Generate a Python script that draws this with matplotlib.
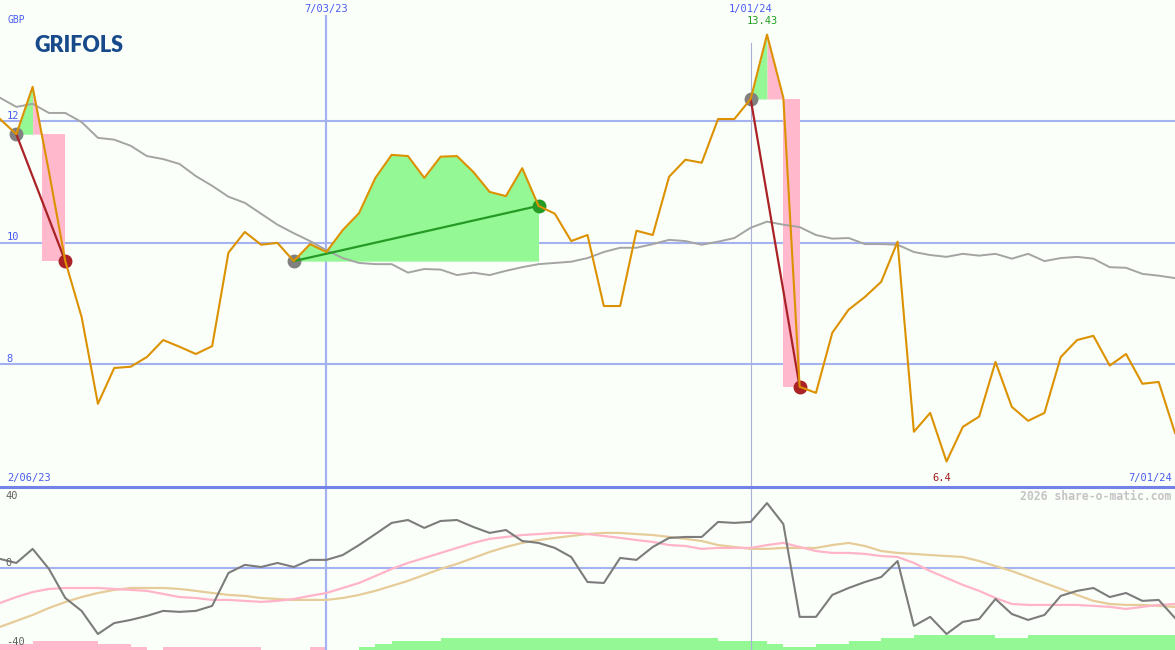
import numpy as np
import matplotlib
matplotlib.use('Agg')
import matplotlib.pyplot as plt

# weekly closing prices (GBP), one per week
price = [12.04, 11.79, 12.57, 11.17, 9.70, 8.78, 7.35, 7.94, 7.96, 8.12,
         8.40, 8.29, 8.17, 8.30, 9.84, 10.18, 9.97, 10.00, 9.70, 9.98,
         9.85, 10.21, 10.49, 11.07, 11.45, 11.43, 11.07, 11.42, 11.43, 11.17,
         10.84, 10.77, 11.23, 10.61, 10.48, 10.03, 10.13, 8.96, 8.96, 10.20,
         10.13, 11.09, 11.37, 11.32, 12.04, 12.04, 12.37, 13.43, 12.39, 7.63,
         7.53, 8.52, 8.90, 9.11, 9.36, 10.02, 6.89, 7.20, 6.40, 6.97,
         7.14, 8.04, 7.30, 7.07, 7.20, 8.12, 8.40, 8.47, 7.98, 8.17,
         7.68, 7.71, 6.87]

# moving average (grey line)
ma = [12.39, 12.24, 12.29, 12.14, 12.14, 11.99, 11.73, 11.70, 11.60, 11.43,
      11.38, 11.30, 11.10, 10.94, 10.76, 10.66, 10.48, 10.30, 10.16, 10.03,
      9.88, 9.75, 9.67, 9.65, 9.65, 9.51, 9.57, 9.56, 9.47, 9.51,
      9.47, 9.54, 9.60, 9.65, 9.67, 9.69, 9.75, 9.85, 9.92, 9.92,
      9.98, 10.05, 10.03, 9.97, 10.02, 10.08, 10.25, 10.35, 10.30, 10.26,
      10.13, 10.07, 10.08, 9.98, 9.98, 9.97, 9.85, 9.80, 9.77, 9.82,
      9.79, 9.82, 9.74, 9.82, 9.70, 9.75, 9.77, 9.74, 9.60, 9.59,
      9.49, 9.46, 9.42]

# lower panel indicators
osc = [4.7, 2.6, 9.9, -0.5, -15.6, -22.3, -34.3, -28.6, -27.0, -24.9,
       -22.3, -22.8, -22.3, -19.7, -2.6, 1.6, 0.5, 2.6, 0.5, 4.2,
       4.2, 6.7, 11.9, 17.6, 23.4, 24.9, 20.8, 24.4, 24.9, 21.3,
       18.2, 19.7, 14.0, 13.0, 10.4, 5.7, -7.3, -7.8, 5.2, 4.2,
       10.9, 15.6, 16.1, 16.1, 23.9, 23.4, 23.9, 33.7, 22.8, -25.4,
       -25.4, -14.0, -10.4, -7.3, -4.7, 3.6, -30.1, -25.4, -34.3, -28.0,
       -26.5, -16.1, -23.9, -27.0, -24.4, -14.5, -11.9, -10.4, -15.1, -13.0,
       -17.1, -16.6, -26.0]
sig_pink = [-18.2, -15.1, -12.5, -10.9, -10.4, -10.4, -10.4, -10.9, -11.4, -11.9,
            -13.5, -15.1, -15.6, -16.6, -16.6, -17.1, -17.6, -17.1, -16.1, -14.5,
            -13.0, -10.4, -7.8, -4.2, -0.5, 2.6, 5.2, 7.8, 10.4, 13.0,
            15.1, 16.1, 17.1, 17.6, 18.2, 18.2, 17.6, 16.6, 15.6, 14.5,
            13.5, 11.9, 11.4, 9.9, 10.4, 10.4, 10.4, 11.9, 13.0, 10.9,
            8.8, 7.8, 7.8, 7.3, 6.2, 5.7, 2.6, -1.6, -5.2, -8.8,
            -11.9, -15.6, -18.7, -19.2, -19.2, -19.2, -19.2, -19.7, -20.2, -21.3,
            -20.2, -19.2, -18.7]
sig_tan = [-30.6, -27.5, -24.4, -20.8, -17.7, -15.1, -13.0, -11.4, -10.4, -10.4,
           -10.4, -10.9, -11.9, -13.0, -14.0, -14.5, -15.6, -16.1, -16.6, -16.6,
           -16.6, -15.6, -14.0, -11.9, -9.3, -6.7, -3.6, -0.5, 2.1, 5.2,
           8.3, 10.9, 13.0, 14.5, 15.6, 16.6, 17.6, 18.2, 18.2, 17.6,
           17.1, 16.1, 15.1, 14.0, 11.9, 10.9, 9.9, 9.9, 10.4, 10.4,
           10.4, 11.9, 13.0, 11.4, 8.8, 7.8, 7.3, 6.7, 6.2, 5.7,
           3.6, 1.0, -1.6, -4.7, -7.8, -10.9, -14.0, -17.1, -18.7, -19.2,
           -19.2, -19.7, -20.2]
# histogram along the bottom (negative = pink, positive = green)
hist = [-2, -2, -3, -3, -3, -3, -2, -2, -1, 0,
        -1, -1, -1, -1, -1, -1, 0, 0, 0, -1,
        0, 0, 1, 2, 3, 3, 3, 4, 4, 4,
        4, 4, 4, 4, 4, 4, 4, 4, 4, 4,
        4, 4, 4, 4, 3, 3, 3, 2, 1, 1,
        2, 2, 3, 3, 4, 4, 5, 5, 5, 5,
        5, 4, 4, 5, 5, 5, 5, 5, 5, 5,
        5, 5, 0]

# trades: entry / exit week index
trade_entry = [1, 18, 46]
trade_exit = [4, 33, 49]

date_pos = [20, 46]
date_labels = ['7/03/23', '1/01/24']
first_date, last_date = '2/06/23', '7/01/24'
price_grid = [12, 10, 8]
osc_labels = ['40', '0', '-40']

bg = '#fbfff9'
grid_c = '#a4b2f2'
lab_c = '#4a5cf0'
mono = 'DejaVu Sans Mono'

x = np.arange(len(price))
price = np.array(price)

fig = plt.figure(figsize=(11.75, 6.5), dpi=100, facecolor=bg)
ax = fig.add_axes([0, 1 - 487 / 650, 1, 487 / 650], facecolor=bg)
ax2 = fig.add_axes([0, 0, 1, 161 / 650], facecolor=bg)
axh = ax2.twinx()

for a in (ax, ax2, axh):
    a.set_xlim(0, len(price) - 1)
    a.set_xticks([])
    a.set_yticks([])
    for s in a.spines.values():
        s.set_visible(False)

ax.set_ylim(5.98, 14.0)
ax2.set_ylim(-42.6, 41.0)
axh.set_ylim(0, 54)

# grid
for g in price_grid:
    ax.axhline(g, color=grid_c, lw=1.5, zorder=1)
    ax.text(0.4, g + 0.04, str(g), color=lab_c, fontsize=7.5, family=mono,
            va='baseline', ha='left')
ax.axvline(date_pos[0], ymax=1 - 16 / 487, color=grid_c, lw=1.6, zorder=1)
ax.axvline(date_pos[1], ymax=1 - 43 / 487, color='#aab0d8', lw=0.8, zorder=1)
ax2.axvline(date_pos[0], color=grid_c, lw=1.6, zorder=1)
ax2.axvline(date_pos[1], color='#aab0d8', lw=0.8, zorder=1)
ax2.axhline(0, color=grid_c, lw=1.5, zorder=1)
ax.axhline(5.98, color='#7282e6', lw=2.2, zorder=5, clip_on=False)

# trades
for ent, ext in zip(trade_entry, trade_exit):
    p0 = price[ent]
    seg = np.arange(ent, ext + 1)
    if price[ext] >= p0:
        ax.fill_between(seg, p0, price[seg], color='#94f894', lw=0, zorder=2)
        ax.plot([ent, ext], [p0, price[ext]], color='#259a25', lw=1.6, zorder=4)
        ax.plot(ext, price[ext], 'o', color='#259a25', ms=9, zorder=4)
    else:
        pk = ent + int(np.argmax(price[ent:ext + 1]))
        ax.fill_between(np.arange(ent, pk + 1), p0, price[ent:pk + 1],
                        color='#94f894', lw=0, zorder=2)
        # where the price falls back through the entry level
        j = pk
        while price[j + 1] >= p0:
            j += 1
        cross = j + (price[j] - p0) / (price[j] - price[j + 1])
        xs = np.append(np.arange(pk, j + 1), cross)
        ys = np.append(price[pk:j + 1], p0)
        ax.fill_between(xs, p0, ys, color='#ffb8cc', lw=0, zorder=2)
        ax.fill_between([cross, ext], price[ext], p0, color='#ffb8cc', lw=0, zorder=2)
        ax.plot([ent, ext], [p0, price[ext]], color='#aa2226', lw=1.6, zorder=4)
        ax.plot(ext, price[ext], 'o', color='#aa2226', ms=9, zorder=4)
    ax.plot(ent, p0, 'o', color='#808080', ms=9, zorder=3)

ax.plot(x, ma, color='#a4a4a4', lw=1.4, zorder=3)
ax.plot(x, price, color='#dc9200', lw=1.5, zorder=5)

# high / low labels
hi, lo = int(np.argmax(price)), int(np.argmin(price))
ax.text(hi - 0.3, 13.65, f'{price[hi]:.2f}', color='#22a022', fontsize=7.5,
        family=mono, ha='center', va='center')
ax.text(lo - 0.3, 6.13, f'{price[lo]:.1f}', color='#a01c1c', fontsize=7.5,
        family=mono, ha='center', va='center')

# date labels
xt = ax.get_xaxis_transform()
for p, lbl in zip(date_pos, date_labels):
    ax.text(p, 1 - 9 / 487, lbl, transform=xt, color=lab_c, fontsize=7.5,
            family=mono, ha='center', va='center')
ax.text(0.43, 6.13, first_date, color=lab_c, fontsize=7.5, family=mono,
        ha='left', va='center')
ax.text(len(price) - 1.2, 6.13, last_date, color=lab_c, fontsize=7.5,
        family=mono, ha='right', va='center')
ax.text(0.006, 1 - 20 / 487, 'GBP', transform=ax.transAxes, color=lab_c,
        fontsize=7, family=mono, ha='left', va='center')
ax.text(0.029, 1 - 45 / 487, 'GRIFOLS', transform=ax.transAxes, color='#174a8a',
        fontsize=15.5, family='Lato', weight='heavy', ha='left', va='center')

# lower panel
axh.bar(x, np.abs(hist), width=1, align='edge', lw=0,
        color=['#94f894' if h > 0 else '#ffb8cc' for h in hist], zorder=1)
ax2.set_zorder(axh.get_zorder() + 1)
ax2.patch.set_visible(False)
ax2.plot(x, sig_tan, color='#e6cc98', lw=1.6, zorder=2)
ax2.plot(x, sig_pink, color='#ffb4c8', lw=1.6, zorder=2)
ax2.plot(x, osc, color='#7c7c7c', lw=1.5, zorder=3)
for v, lbl in zip([37.4, 2.6, -38.4], osc_labels):
    ax2.text(0.35, v, lbl, color='#606060', fontsize=7.5, family=mono,
             ha='left', va='center')
ax2.text(len(price) - 1.2, 37, '2026 share-o-matic.com', color='#c4c4c4',
         fontsize=8.3, family=mono, weight='bold', ha='right', va='center')

fig.savefig('out.png', dpi=100, facecolor=bg)
